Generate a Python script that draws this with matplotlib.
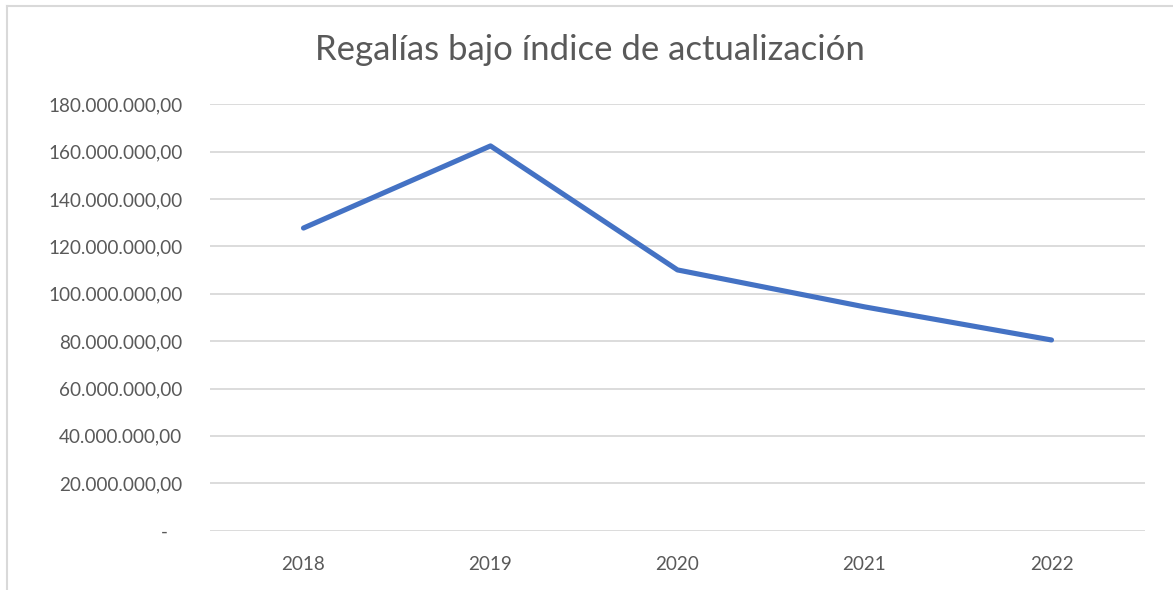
import numpy as np
import matplotlib
matplotlib.use("Agg")
import matplotlib.pyplot as plt
from matplotlib.ticker import FuncFormatter
from matplotlib.lines import Line2D

# data
years = ["2018", "2019", "2020", "2021", "2022"]
regalias = [127.8e6, 162.5e6, 110.1e6, 94.5e6, 80.5e6]
yticks = np.arange(0, 180e6 + 1, 20e6)

plt.rcParams['font.family'] = ['Lato', 'DejaVu Sans']
gray = '#595959'

W, H = 1173, 590
fig = plt.figure(figsize=(W / 100, H / 100), dpi=100)
ax = fig.add_axes([210 / W, (H - 530.5) / H, (1145 - 210) / W, (530.5 - 104.5) / H])

x = np.arange(len(years))
ax.plot(x, regalias, color='#4472C4', lw=3.7, solid_capstyle='round', solid_joinstyle='round', zorder=3)

ax.set_xlim(-0.5, len(years) - 0.5)
ax.set_ylim(0, 180e6)
ax.set_xticks(x)
ax.set_xticklabels(years)
ax.set_yticks(yticks)


def fmt(v, pos):
    # excel accounting style: zero shown as a dash
    if v == 0:
        return "-   "
    s = f"{v:,.2f}"
    return s.replace(",", "X").replace(".", ",").replace("X", ".")


ax.yaxis.set_major_formatter(FuncFormatter(fmt))
ax.grid(axis='y', color='#D9D9D9', lw=1.3)
ax.set_axisbelow(True)
for sp in ax.spines.values():
    sp.set_visible(False)
ax.tick_params(axis='both', length=0, colors=gray, labelsize=13.6)
ax.tick_params(axis='y', pad=20)
ax.tick_params(axis='x', pad=18)

fig.text(590 / W, (H - 50) / H, "Regalías bajo índice de actualización", ha='center', va='center',
         fontsize=25, color=gray)

# chart border (Excel chart area)
fig.add_artist(Line2D([7 / W, 7 / W], [0, (H - 6) / H], color='#D9D9D9', lw=1.5, transform=fig.transFigure))
fig.add_artist(Line2D([7 / W, 1], [(H - 6) / H, (H - 6) / H], color='#D9D9D9', lw=1.5, transform=fig.transFigure))

fig.savefig("out.png", dpi=100)
